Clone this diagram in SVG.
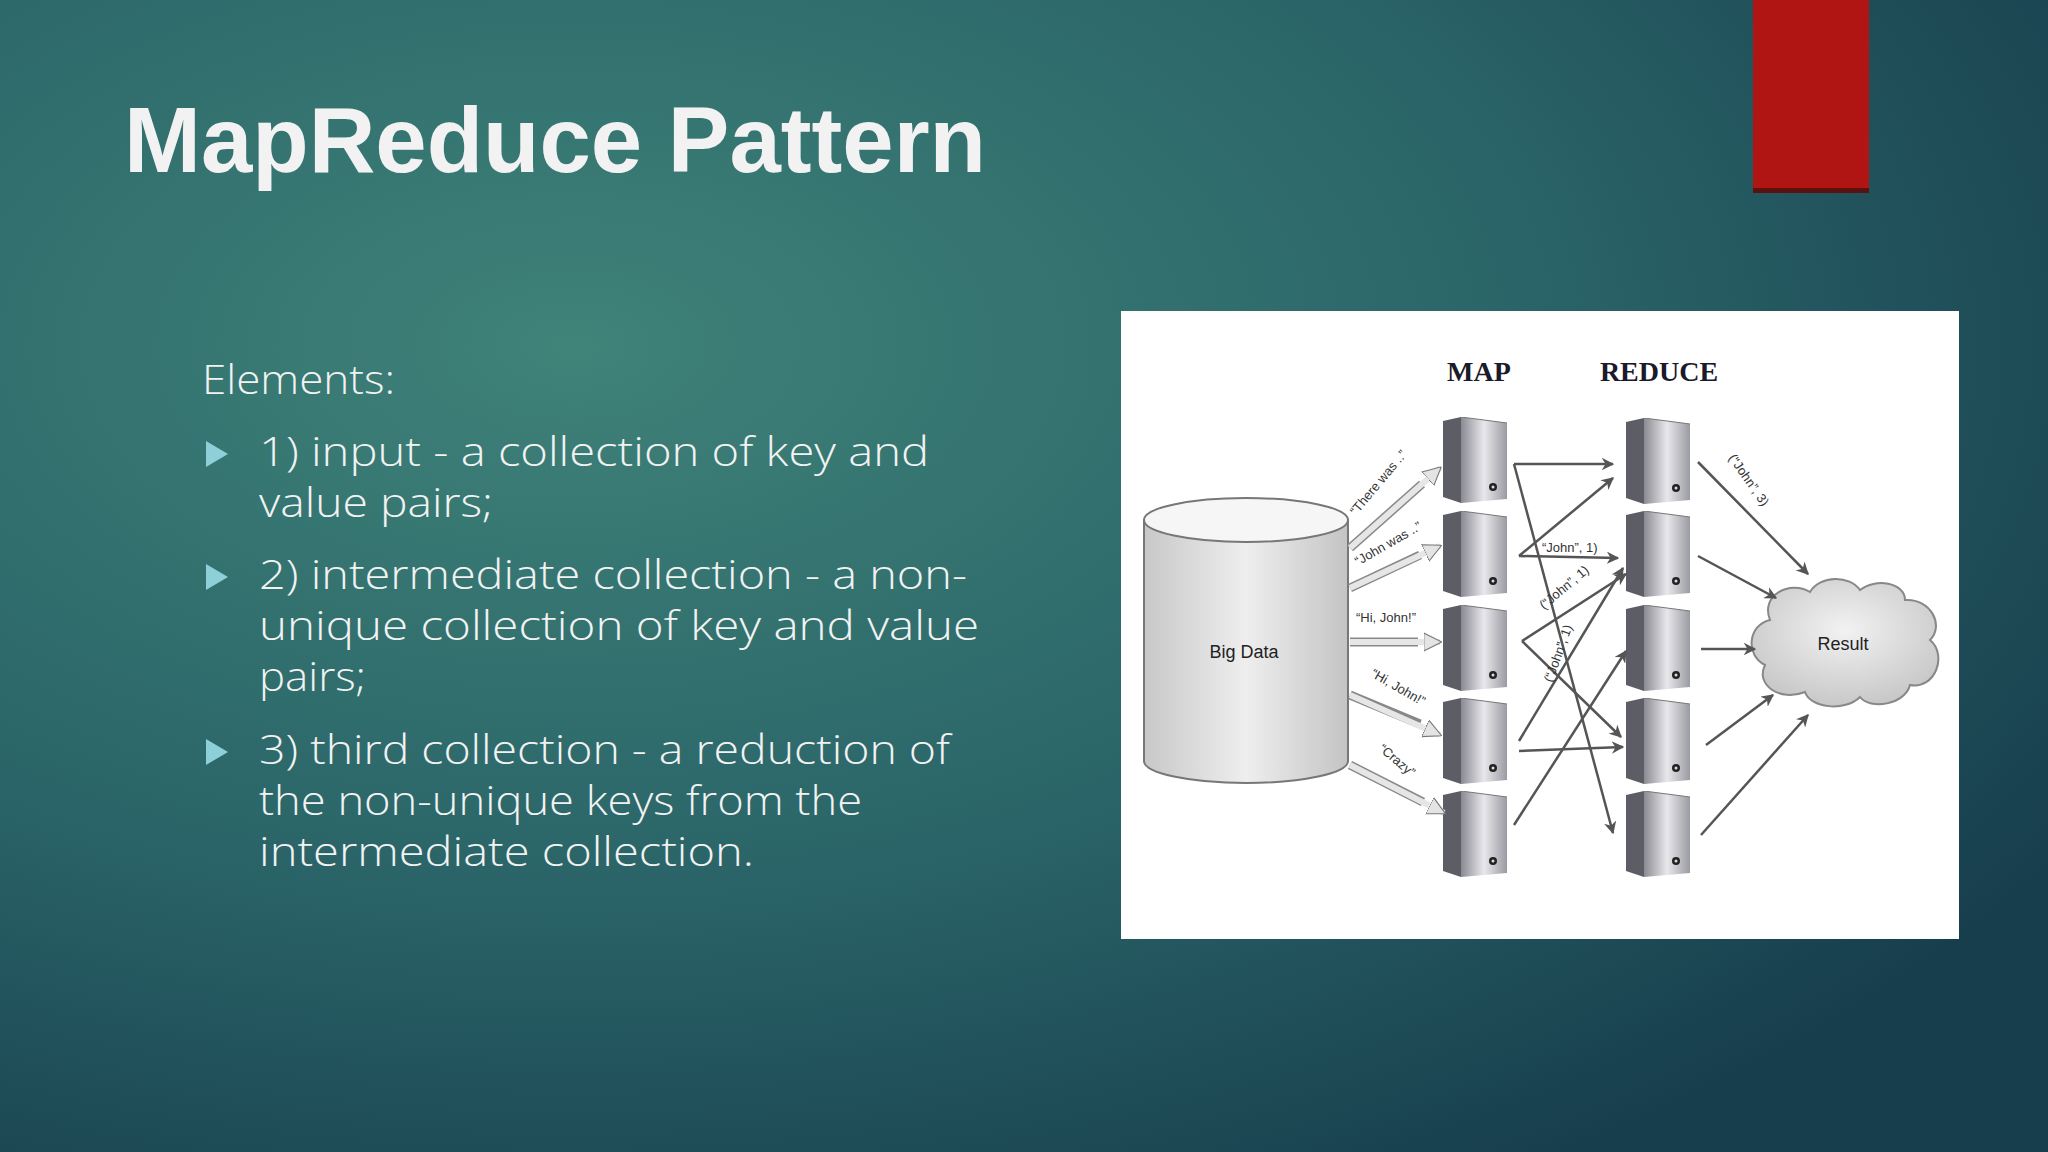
<svg xmlns="http://www.w3.org/2000/svg" xmlns:xlink="http://www.w3.org/1999/xlink" width="2048" height="1152" viewBox="0 0 2048 1152">
<defs>
<radialGradient id="bg" cx="0.28" cy="0.3" r="0.85">
<stop offset="0" stop-color="#3f8379"/><stop offset="0.55" stop-color="#2a6468"/><stop offset="1" stop-color="#173e4d"/>
</radialGradient>
<linearGradient id="face" x1="0" y1="0" x2="1" y2="0">
<stop offset="0" stop-color="#8a8a92"/><stop offset="0.5" stop-color="#e8e8ec"/><stop offset="1" stop-color="#9a9aa2"/>
</linearGradient>
<linearGradient id="cyl" x1="0" y1="0" x2="1" y2="0">
<stop offset="0" stop-color="#c8c8c8"/><stop offset="0.5" stop-color="#eeeeee"/><stop offset="1" stop-color="#c4c4c4"/>
</linearGradient>
<radialGradient id="cloud" cx="0.5" cy="0.4" r="0.6">
<stop offset="0" stop-color="#f2f2f2"/><stop offset="1" stop-color="#c8c8c8"/>
</radialGradient>
<symbol id="srv" viewBox="0 0 64 86" width="64" height="86">
<path d="M0 4 L18 0 L18 86 L0 80 Z" fill="#5d5d66"/>
<path d="M18 0 L64 6 L64 82 L18 86 Z" fill="url(#face)"/>
<path d="M18 0 L64 6" stroke="#777" fill="none"/>
<circle cx="50" cy="70" r="4" fill="#222"/>
<circle cx="50" cy="70" r="1.5" fill="#ddd"/>
</symbol>
<marker id="ah" viewBox="0 0 10 10" refX="9" refY="5" markerWidth="5" markerHeight="5" orient="auto"><path d="M0 0 L10 5 L0 10 L3 5 Z" fill="#555"/></marker>
<marker id="fat" viewBox="0 0 10 10" refX="9" refY="5" markerWidth="3" markerHeight="3.4" orient="auto" markerUnits="strokeWidth"><path d="M0 0 L10 5 L0 10 Z" fill="#e4e4e4" stroke="#777" stroke-width="0.6"/></marker>
</defs>
<style>
.body{font-family:"Open Sans","Liberation Sans",sans-serif;font-weight:300;font-size:40px;fill:#f2f2f2}
.thin{stroke:#555;stroke-width:2.5;fill:none;marker-end:url(#ah)}
.fato{stroke:#888;stroke-width:9;fill:none}
.fat{stroke:#e6e6e6;stroke-width:6;fill:none;marker-end:url(#fat)}
.lbl{font-family:"Liberation Sans",sans-serif;font-size:13px;fill:#333}
.hd{font-family:"Liberation Serif",serif;font-weight:bold;font-size:28px;fill:#1a1a2a}
</style>
<rect width="2048" height="1152" fill="url(#bg)"/>
<rect x="1753" y="0" width="116" height="190" fill="#b01513"/>
<rect x="1753" y="188" width="116" height="5" fill="#5a1210"/>
<text x="124" y="172" font-family="'Liberation Sans',sans-serif" font-weight="bold" font-size="92" fill="#f2f2f2" textLength="862" lengthAdjust="spacingAndGlyphs">MapReduce Pattern</text>
<g id="bullets">
<text class="body" x="202" y="394" textLength="193" lengthAdjust="spacingAndGlyphs">Elements:</text>
<path d="M206 441 L228 454 L206 467 Z" fill="#8ed0d8"/>
<path d="M206 564 L228 577 L206 590 Z" fill="#8ed0d8"/>
<path d="M206 739 L228 752 L206 765 Z" fill="#8ed0d8"/>
<text class="body" x="259" y="466" textLength="670" lengthAdjust="spacingAndGlyphs">1) input - a collection of key and</text>
<text class="body" x="259" y="517" textLength="234" lengthAdjust="spacingAndGlyphs">value pairs;</text>
<text class="body" x="259" y="589" textLength="708" lengthAdjust="spacingAndGlyphs">2) intermediate collection - a non-</text>
<text class="body" x="259" y="640" textLength="720" lengthAdjust="spacingAndGlyphs">unique collection of key and value</text>
<text class="body" x="259" y="691" textLength="107" lengthAdjust="spacingAndGlyphs">pairs;</text>
<text class="body" x="259" y="764" textLength="691" lengthAdjust="spacingAndGlyphs">3) third collection - a reduction of</text>
<text class="body" x="259" y="815" textLength="603" lengthAdjust="spacingAndGlyphs">the non-unique keys from the</text>
<text class="body" x="259" y="866" textLength="495" lengthAdjust="spacingAndGlyphs">intermediate collection.</text>
</g>
<rect x="1121" y="311" width="838" height="628" fill="#ffffff"/>
<text class="hd" x="1479" y="381" text-anchor="middle">MAP</text>
<text class="hd" x="1659" y="381" text-anchor="middle">REDUCE</text>
<g id="bigdata">
<path d="M1144 520 L1144 761 A102 22 0 0 0 1348 761 L1348 520 Z" fill="url(#cyl)" stroke="#777" stroke-width="2"/>
<ellipse cx="1246" cy="520" rx="102" ry="22" fill="#f6f6f6" stroke="#777" stroke-width="2"/>
<text x="1244" y="658" text-anchor="middle" font-family="'Liberation Sans',sans-serif" font-size="18" fill="#222">Big Data</text>
</g>
<g id="map">
<use xlink:href="#srv" x="1443" y="417"/><use xlink:href="#srv" x="1443" y="511"/><use xlink:href="#srv" x="1443" y="605"/><use xlink:href="#srv" x="1443" y="698"/><use xlink:href="#srv" x="1443" y="791"/>
</g>
<g id="reduce">
<use xlink:href="#srv" x="1626" y="418"/><use xlink:href="#srv" x="1626" y="511"/><use xlink:href="#srv" x="1626" y="605"/><use xlink:href="#srv" x="1626" y="698"/><use xlink:href="#srv" x="1626" y="791"/>
</g>
<g id="result">
<path d="M1770 620 C1760 595 1790 580 1810 592 C1820 575 1850 575 1860 590 C1875 578 1905 582 1905 600 C1930 598 1945 625 1930 640 C1948 655 1935 690 1910 685 C1905 705 1870 710 1860 697 C1845 712 1810 708 1805 692 C1780 702 1755 685 1765 665 C1745 655 1748 625 1770 620 Z" fill="url(#cloud)" stroke="#888" stroke-width="2"/>
<text x="1843" y="650" text-anchor="middle" font-family="'Liberation Sans',sans-serif" font-size="18" fill="#222">Result</text>
</g>
<g id="connectors">
<path class="fato" d="M1350 548 L1422 484"/>
<path class="fato" d="M1350 588 L1420 555"/>
<path class="fato" d="M1350 642 L1418 642"/>
<path class="fato" d="M1350 695 L1420 724"/>
<path class="fato" d="M1350 765 L1423 802"/>
<path class="fat" d="M1350 548 L1440 468"/>
<path class="fat" d="M1350 588 L1440 546"/>
<path class="fat" d="M1350 642 L1440 642"/>
<path class="fat" d="M1350 695 L1440 735"/>
<path class="fat" d="M1350 765 L1444 813"/>
<path class="thin" d="M1514 464 L1613 464"/>
<path class="thin" d="M1514 464 L1613 833"/>
<path class="thin" d="M1519 556 L1613 478"/>
<path class="thin" d="M1519 556 L1618 558"/>
<path class="thin" d="M1522 641 L1626 574"/>
<path class="thin" d="M1522 641 L1621 737"/>
<path class="thin" d="M1519 741 L1623 568"/>
<path class="thin" d="M1519 751 L1623 747"/>
<path class="thin" d="M1514 825 L1626 651"/>
<path class="thin" d="M1698 462 L1808 574"/>
<path class="thin" d="M1698 556 L1776 598"/>
<path class="thin" d="M1701 649 L1755 649"/>
<path class="thin" d="M1706 745 L1773 695"/>
<path class="thin" d="M1701 835 L1808 715"/>
</g>
<g id="labels">
<text class="lbl" transform="translate(1356 516) rotate(-50)">“There was ..”</text>
<text class="lbl" transform="translate(1358 566) rotate(-30)">“John was ..”</text>
<text class="lbl" x="1356" y="622">“Hi, John!”</text>
<text class="lbl" transform="translate(1370 676) rotate(30)">“Hi, John!”</text>
<text class="lbl" transform="translate(1378 750) rotate(40)">“Crazy”</text>
<text class="lbl" x="1542" y="552">“John”, 1)</text>
<text class="lbl" transform="translate(1544 610) rotate(-40)">(“John”, 1)</text>
<text class="lbl" transform="translate(1552 683) rotate(-70)">(“John”, 1)</text>
<text class="lbl" transform="translate(1728 458) rotate(55)">(“John”, 3)</text>
</g>
</svg>
